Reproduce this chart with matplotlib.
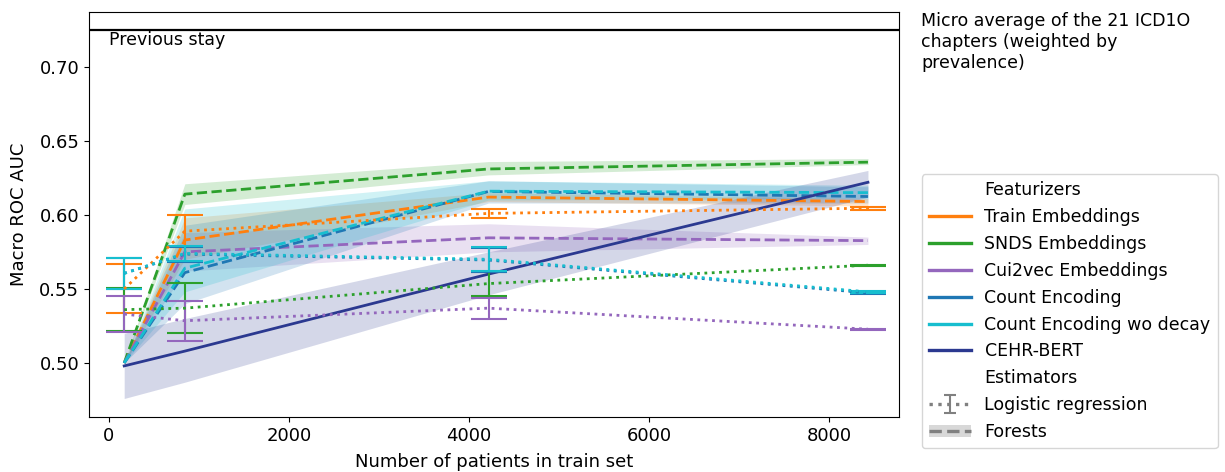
import matplotlib
matplotlib.use("Agg")
import matplotlib.pyplot as plt
from matplotlib.lines import Line2D
from matplotlib.patches import Patch

plt.rcParams['font.family'] = ['DejaVu Sans']
plt.rcParams['font.size'] = 13

# ---------------- data ----------------
n_train = [169, 843, 4217, 8433]

featurizers = ["Train Embeddings", "SNDS Embeddings", "Cui2vec Embeddings",
               "Count Encoding", "Count Encoding wo decay", "CEHR-BERT"]
colors = {"Train Embeddings": "#ff7f0e", "SNDS Embeddings": "#2ca02c",
          "Cui2vec Embeddings": "#9467bd", "Count Encoding": "#1f77b4",
          "Count Encoding wo decay": "#17becf", "CEHR-BERT": "#2b3990"}

# Forests (mean, lower band, upper band)
train_rf = [0.500, 0.583, 0.612, 0.609]
train_rf_lo = [0.500, 0.570, 0.609, 0.606]
train_rf_hi = [0.500, 0.598, 0.615, 0.611]
snds_rf = [0.500, 0.614, 0.631, 0.6356]
snds_rf_lo = [0.500, 0.607, 0.627, 0.634]
snds_rf_hi = [0.500, 0.621, 0.636, 0.638]
cui_rf = [0.500, 0.575, 0.5845, 0.5826]
cui_rf_lo = [0.500, 0.562, 0.575, 0.580]
cui_rf_hi = [0.500, 0.588, 0.594, 0.585]
count_rf = [0.500, 0.561, 0.6158, 0.6124]
count_rf_lo = [0.500, 0.540, 0.608, 0.608]
count_rf_hi = [0.500, 0.593, 0.623, 0.619]
countwo_rf = [0.500, 0.564, 0.616, 0.615]
countwo_rf_lo = [0.500, 0.548, 0.610, 0.611]
countwo_rf_hi = [0.500, 0.604, 0.623, 0.620]

# CEHR-BERT
cehr = [0.498, 0.508, 0.560, 0.622]
cehr_lo = [0.476, 0.487, 0.546, 0.612]
cehr_hi = [0.520, 0.530, 0.575, 0.630]

# Logistic regression (mean, error)
train_lr = [0.550, 0.589, 0.601, 0.6045]
train_lr_err = [0.0165, 0.011, 0.003, 0.0011]
snds_lr = [0.536, 0.537, 0.5536, 0.566]
snds_lr_err = [0.0147, 0.0167, 0.0081, 0.0003]
cui_lr = [0.533, 0.5285, 0.537, 0.5228]
cui_lr_err = [0.0122, 0.0135, 0.007, 0.0003]
count_lr = [0.5605, 0.5735, 0.5695, 0.5473]
count_lr_err = [0.0105, 0.005, 0.008, 0.0005]
countwo_lr = [0.5605, 0.574, 0.570, 0.548]
countwo_lr_err = [0.0107, 0.005, 0.008, 0.0008]

previous_stay = 0.725

forests = {
    "Train Embeddings": (train_rf, train_rf_lo, train_rf_hi),
    "SNDS Embeddings": (snds_rf, snds_rf_lo, snds_rf_hi),
    "Cui2vec Embeddings": (cui_rf, cui_rf_lo, cui_rf_hi),
    "Count Encoding": (count_rf, count_rf_lo, count_rf_hi),
    "Count Encoding wo decay": (countwo_rf, countwo_rf_lo, countwo_rf_hi),
}
logreg = {
    "Train Embeddings": (train_lr, train_lr_err),
    "SNDS Embeddings": (snds_lr, snds_lr_err),
    "Cui2vec Embeddings": (cui_lr, cui_lr_err),
    "Count Encoding": (count_lr, count_lr_err),
    "Count Encoding wo decay": (countwo_lr, countwo_lr_err),
}

# ---------------- figure ----------------
fig = plt.figure(figsize=(12.25, 4.72), dpi=100)
ax = fig.add_axes([89 / 1225, 1 - 417 / 472, (899 - 89) / 1225, (417 - 12) / 472])

lw = 2.0
for name, (m, lo, hi) in forests.items():
    c = colors[name]
    ax.fill_between(n_train, lo, hi, color=c, alpha=0.2, linewidth=0)
    ax.plot(n_train, m, color=c, linestyle="--", linewidth=lw)

ax.fill_between(n_train, cehr_lo, cehr_hi, color=colors["CEHR-BERT"], alpha=0.2, linewidth=0)
ax.plot(n_train, cehr, color=colors["CEHR-BERT"], linestyle="-", linewidth=lw)

for name, (m, e) in logreg.items():
    c = colors[name]
    ax.errorbar(n_train, m, yerr=e, color=c, linestyle=":", linewidth=lw,
                elinewidth=1.5, capsize=13, capthick=1.5)

ax.axhline(previous_stay, color="black", linewidth=1.6)
ax.text(0, previous_stay - 0.0008, "Previous stay", va="top", ha="left", fontsize=12.5)

ax.set_xlim(-222, 8778)
ax.set_ylim(0.4635, 0.737)
ax.set_xticks([0, 2000, 4000, 6000, 8000])
ax.set_yticks([0.50, 0.55, 0.60, 0.65, 0.70])
ax.set_xlabel("Number of patients in train set", labelpad=6)
ax.set_ylabel("Macro ROC AUC", labelpad=8)

fig.text(921 / 1225, 1 - 12 / 472,
         "Micro average of the 21 ICD1O\nchapters (weighted by\nprevalence)",
         ha="left", va="top", fontsize=12.5, linespacing=1.2)

# ---------------- legend ----------------
handles = [Line2D([], [], linestyle="none")]
labels = ["Featurizers"]
for name in featurizers:
    handles.append(Line2D([], [], color=colors[name], linewidth=2.4))
    labels.append(name)
handles.append(Line2D([], [], linestyle="none"))
labels.append("Estimators")
eb = ax.errorbar([-1e6], [0.5], yerr=[0.01], color="grey", linestyle=":",
                 linewidth=2.4, elinewidth=1.5, capsize=4, capthick=1.5)
handles.append(eb)
labels.append("Logistic regression")
handles.append((Patch(facecolor="grey", alpha=0.3, linewidth=0),
                Line2D([], [], color="grey", linestyle="--", linewidth=2.4)))
labels.append("Forests")

fig.legend(handles, labels, loc="lower left",
           bbox_to_anchor=(922 / 1225, 1 - 448 / 472),
           handlelength=2.4, fontsize=12.5, borderaxespad=0,
           labelspacing=0.51)

fig.savefig("out.png", dpi=100)
